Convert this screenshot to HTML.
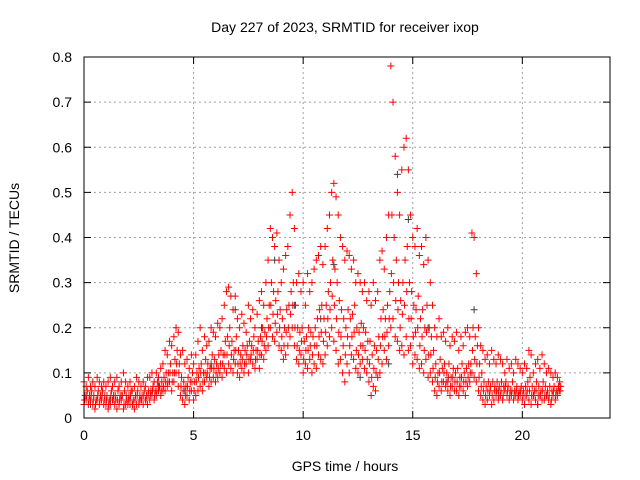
<!DOCTYPE html>
<html><head><meta charset="utf-8"><style>
html,body{margin:0;padding:0;background:#fff;}
svg{display:block;font-family:"Liberation Sans",sans-serif;}
</style></head><body>
<svg id="chart" width="640" height="480" viewBox="0 0 640 480" xmlns="http://www.w3.org/2000/svg">
<rect width="640" height="480" fill="#fff"/>
<g id="grid"></g>
<g id="gray"></g>
<g id="red"></g>
<g id="axes"></g>
<text x="345" y="32" text-anchor="middle" font-size="14">Day 227 of 2023, SRMTID for receiver ixop</text>
<text x="345" y="471" text-anchor="middle" font-size="14">GPS time / hours</text>
<text transform="translate(19,238) rotate(-90)" text-anchor="middle" font-size="14">SRMTID / TECUs</text>
</svg>
<script>
const xTicks=[0,5,10,15,20];
const yTicks=[0,0.1,0.2,0.3,0.4,0.5,0.6,0.7,0.8];
const yTickLabels=["0","0.1","0.2","0.3","0.4","0.5","0.6","0.7","0.8"];
const step=0.1;
const redHi=[.08,.07,.09,.07,.08,.07,.09,.08,.07,.08,.07,.08,.09,.07,.08,.09,.07,.08,.1,.08,.07,.08,.06,.07,.09,.08,.07,.08,.07,.09,.09,.1,.08,.1,.09,.11,.12,.15,.14,.17,.16,.18,.2,.19,.14,.15,.12,.13,.11,.14,.12,.14,.17,.2,.15,.18,.16,.17,.2,.19,.18,.21,.2,.22,.25,.28,.29,.27,.24,.27,.22,.2,.23,.21,.19,.25,.22,.24,.2,.23,.26,.28,.25,.3,.35,.42,.4,.38,.41,.35,.3,.33,.36,.38,.45,.5,.42,.3,.32,.28,.3,.25,.32,.28,.3,.33,.35,.36,.38,.34,.38,.42,.45,.5,.52,.49,.45,.4,.38,.35,.37,.36,.33,.35,.3,.32,.3,.28,.3,.26,.28,.25,.3,.26,.28,.35,.37,.33,.4,.45,.78,.7,.58,.5,.45,.55,.6,.62,.55,.45,.4,.38,.42,.36,.38,.34,.4,.35,.3,.25,.2,.18,.22,.18,.19,.17,.2,.16,.18,.17,.19,.15,.18,.16,.19,.2,.18,.41,.4,.32,.2,.16,.15,.13,.14,.12,.15,.13,.12,.14,.13,.12,.1,.13,.11,.12,.1,.13,.12,.11,.1,.12,.11,.15,.14,.1,.12,.13,.11,.14,.12,.1,.11,.1,.09,.1,.09,.08];
const redLo=[.03,.04,.03,.04,.03,.02,.04,.03,.04,.03,.03,.02,.03,.04,.03,.02,.03,.04,.02,.03,.03,.04,.03,.02,.03,.03,.04,.03,.04,.03,.04,.05,.04,.05,.06,.05,.06,.06,.07,.08,.06,.08,.1,.07,.05,.04,.03,.05,.04,.06,.04,.05,.06,.07,.06,.08,.09,.07,.08,.09,.08,.09,.1,.09,.11,.1,.12,.11,.1,.12,.1,.09,.11,.1,.12,.1,.13,.12,.11,.13,.11,.14,.13,.15,.16,.2,.18,.17,.19,.16,.15,.13,.14,.16,.18,.2,.16,.13,.12,.14,.1,.12,.11,.13,.1,.12,.11,.14,.13,.12,.14,.16,.18,.2,.17,.15,.12,.13,.1,.08,.12,.1,.14,.13,.11,.1,.12,.13,.11,.1,.08,.05,.07,.06,.09,.1,.12,.15,.13,.16,.2,.22,.18,.17,.15,.16,.14,.18,.15,.16,.12,.14,.13,.11,.12,.1,.13,.09,.1,.08,.06,.05,.07,.06,.08,.07,.06,.05,.07,.06,.06,.05,.07,.06,.05,.07,.08,.1,.09,.08,.06,.05,.04,.03,.04,.05,.03,.04,.05,.04,.05,.04,.06,.05,.04,.05,.04,.05,.04,.05,.04,.03,.05,.04,.03,.05,.04,.03,.05,.04,.04,.05,.04,.03,.05,.04,.05,.06];
const redMid=[.05,.06,.05,.06,.05,.04,.06,.05,.06,.05,.05,.04,.06,.05,.04,.06,.05,.05,.06,.04,.05,.06,.04,.05,.06,.05,.05,.06,.05,.06,.06,.07,.06,.08,.07,.08,.09,.1,.1,.12,.1,.13,.15,.12,.09,.08,.07,.09,.08,.1,.08,.1,.11,.12,.1,.13,.12,.11,.14,.13,.12,.14,.15,.14,.17,.18,.2,.17,.15,.18,.15,.14,.16,.15,.16,.17,.16,.18,.15,.17,.18,.2,.19,.22,.25,.3,.28,.26,.28,.24,.22,.2,.24,.25,.28,.3,.25,.2,.19,.2,.17,.18,.2,.19,.18,.2,.22,.24,.25,.22,.25,.28,.3,.35,.33,.3,.26,.24,.22,.2,.24,.22,.23,.25,.2,.19,.21,.2,.19,.17,.17,.14,.16,.15,.18,.22,.24,.22,.25,.28,.45,.4,.35,.3,.26,.3,.35,.38,.3,.28,.25,.24,.27,.22,.24,.2,.25,.2,.18,.15,.12,.1,.13,.11,.12,.1,.12,.09,.11,.1,.11,.09,.12,.1,.11,.12,.12,.2,.18,.16,.12,.1,.08,.07,.08,.07,.08,.07,.08,.07,.08,.07,.08,.07,.06,.08,.06,.07,.06,.07,.06,.07,.08,.09,.07,.06,.08,.07,.06,.08,.07,.06,.07,.06,.07,.06,.07,.07];
const redLowMid=[.04,.05,.04,.05,.04,.03,.05,.04,.05,.04,.04,.03,.05,.04,.05,.04,.04,.05,.03,.05,.04,.05,.03,.04,.05,.04,.04,.05,.04,.05,.05,.06,.05,.06,.07,.06,.07,.08,.08,.1,.08,.1,.12,.1,.07,.06,.05,.07,.06,.08,.06,.08,.09,.1,.08,.1,.1,.09,.11,.11,.1,.11,.12,.12,.14,.14,.16,.14,.13,.15,.12,.12,.13,.12,.14,.13,.14,.15,.13,.15,.14,.17,.16,.18,.2,.25,.23,.21,.23,.2,.18,.16,.19,.2,.23,.25,.2,.16,.15,.17,.13,.15,.15,.16,.14,.16,.16,.18,.19,.17,.19,.22,.24,.27,.25,.22,.19,.18,.16,.14,.18,.16,.18,.19,.15,.14,.16,.16,.15,.13,.12,.09,.11,.1,.13,.16,.18,.18,.19,.22,.32,.3,.26,.24,.2,.23,.25,.28,.22,.22,.18,.19,.2,.16,.18,.15,.19,.14,.14,.11,.09,.08,.1,.08,.1,.08,.09,.07,.09,.08,.08,.07,.09,.08,.08,.09,.1,.15,.13,.12,.09,.07,.06,.05,.06,.06,.05,.06,.06,.05,.06,.05,.07,.06,.05,.06,.05,.06,.05,.06,.05,.05,.06,.06,.05,.05,.06,.05,.05,.06,.05,.05,.05,.04,.06,.05,.06,.06];
const grayTimes=[0.3,1.2,2.1,3.4,4.6,5.8,6.9,8.1,8.7,9.6,10.8,11.4,12.6,13.9,14.3,14.8,15.7,16.6,17.8,18.9,19.8,20.7,21.4];
const grayVals=[.03,.04,.03,.07,.06,.12,.24,.2,.35,.25,.22,.34,.09,.12,.54,.44,.2,.08,.24,.06,.05,.03,.05];

const L=84,R=610,T=57,B=418,xMax=24,yMax=0.8;
const sx=v=>L+(R-L)*v/xMax, sy=v=>B-(B-T)*v/yMax;
const NS="http://www.w3.org/2000/svg";
function mk(tag,attrs,parent){const e=document.createElementNS(NS,tag);for(const k in attrs)e.setAttribute(k,attrs[k]);parent.appendChild(e);return e;}
const grid=document.getElementById('grid'),axes=document.getElementById('axes');
xTicks.forEach(t=>{
  if(t>0){const g=mk('line',{x1:sx(t),x2:sx(t),y1:T,y2:B,stroke:'#a0a0a0','stroke-dasharray':'2,3'},grid);
  
  }
  const a=mk('line',{x1:sx(t),x2:sx(t),y1:B,y2:B-7,stroke:'#000'},axes);
  
  
  const b=mk('line',{x1:sx(t),x2:sx(t),y1:T,y2:T+7,stroke:'#000'},axes);
  
  
  const tx=mk('text',{x:sx(t),y:B+22,'text-anchor':'middle','font-size':14},axes);tx.textContent=String(t);
  
  
});
yTicks.forEach((t,i)=>{
  if(t>0&&t<yMax){const g=mk('line',{x1:L,x2:R,y1:sy(t),y2:sy(t),stroke:'#a0a0a0','stroke-dasharray':'2,3'},grid);
  
  }
  const a=mk('line',{x1:L,x2:L+7,y1:sy(t),y2:sy(t),stroke:'#000'},axes);
  
  
  const b=mk('line',{x1:R,x2:R-7,y1:sy(t),y2:sy(t),stroke:'#000'},axes);
  
  
  const tx=mk('text',{x:L-12,y:sy(t)+5,'text-anchor':'end','font-size':14},axes);tx.textContent=yTickLabels[i];
  
  
});
const fr=mk('rect',{x:L,y:T,width:R-L,height:B-T,fill:'none',stroke:'#000'},axes);


function plus(g,x,y,c){const p=mk('path',{d:`M${x-3.5},${y}h7M${x},${y-3.5}v7`,stroke:c,'stroke-width':1,fill:'none'},g);
  
  }
const gg=document.getElementById('gray'),rg=document.getElementById('red');
grayTimes.forEach((t,i)=>plus(gg,sx(t),sy(grayVals[i]),'#404040'));
redHi.forEach((v,i)=>plus(rg,sx(i*step),sy(v),'#ff0000'));
redLo.forEach((v,i)=>plus(rg,sx(i*step),sy(v),'#ff0000'));
redMid.forEach((v,i)=>plus(rg,sx(i*step+step/2),sy(v),'#ff0000'));
redLowMid.forEach((v,i)=>plus(rg,sx(i*step+step/4),sy(v),'#ff0000'));
</script>
</body></html>
